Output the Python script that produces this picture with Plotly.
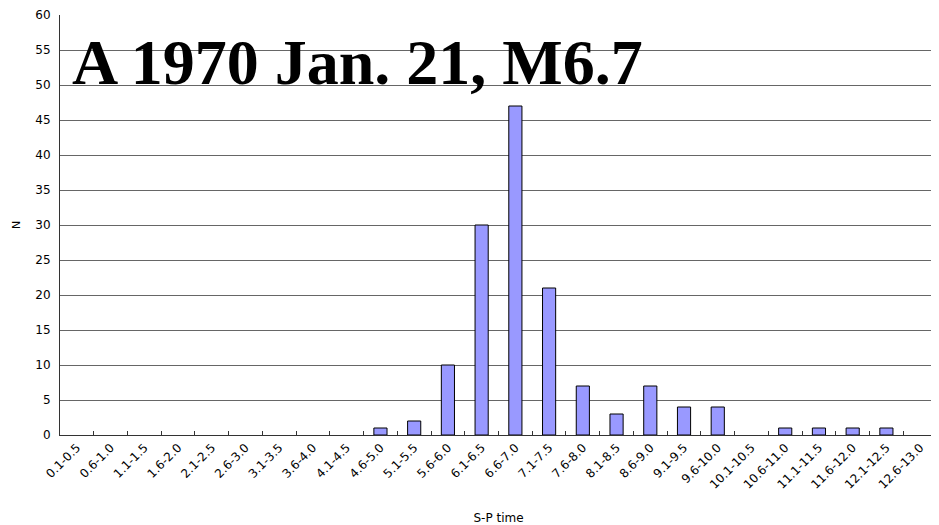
import plotly.graph_objects as go

categories = ["0.1-0.5", "0.6-1.0", "1.1-1.5", "1.6-2.0", "2.1-2.5", "2.6-3.0",
              "3.1-3.5", "3.6-4.0", "4.1-4.5", "4.6-5.0", "5.1-5.5", "5.6-6.0",
              "6.1-6.5", "6.6-7.0", "7.1-7.5", "7.6-8.0", "8.1-8.5", "8.6-9.0",
              "9.1-9.5", "9.6-10.0", "10.1-10.5", "10.6-11.0", "11.1-11.5",
              "11.6-12.0", "12.1-12.5", "12.6-13.0"]
counts = [0, 0, 0, 0, 0, 0, 0, 0, 0, 1, 2, 10, 30, 47, 21, 7, 3, 7, 4, 4, 0, 1, 1, 1, 1, 0]
y_ticks = list(range(0, 61, 5))
title_text = "A 1970 Jan. 21, M6.7"

fig = go.Figure(go.Bar(
    x=categories, y=counts,
    marker=dict(color="#9999FF",
                line=dict(color="black", width=[1 if c > 0 else 0 for c in counts])),
    width=0.39,
))

fig.update_layout(
    width=931, height=517,
    margin=dict(l=52, r=2, t=7, b=90),
    plot_bgcolor="white", paper_bgcolor="white",
    showlegend=False,
    font=dict(family="DejaVu Sans, Liberation Sans", color="black", size=11),
    xaxis=dict(
        type="category", tickangle=-45, tickson="boundaries",
        ticks="inside", ticklen=4, tickcolor="#333",
        showline=True, linecolor="#333", linewidth=1,
        showgrid=False, automargin=False,
        tickfont=dict(size=12),
        title=dict(text="S-P time", font=dict(size=12), standoff=26),
    ),
    yaxis=dict(
        range=[0, 60], tickvals=y_ticks,
        showgrid=True, gridcolor="#666", gridwidth=1,
        showline=True, linecolor="#333", linewidth=1,
        ticks="", tickfont=dict(size=12), ticklabelstandoff=6,
        title=dict(text="N", font=dict(size=11), standoff=12),
        zeroline=False, automargin=False,
    ),
    annotations=[dict(
        text="<b>" + title_text + "</b>", xref="paper", yref="paper",
        x=0.0114, y=0.888, xanchor="left", yanchor="middle", showarrow=False,
        font=dict(family="Liberation Serif, Times New Roman, serif", size=64, color="black"),
    )],
)

fig.write_html("out.html")
